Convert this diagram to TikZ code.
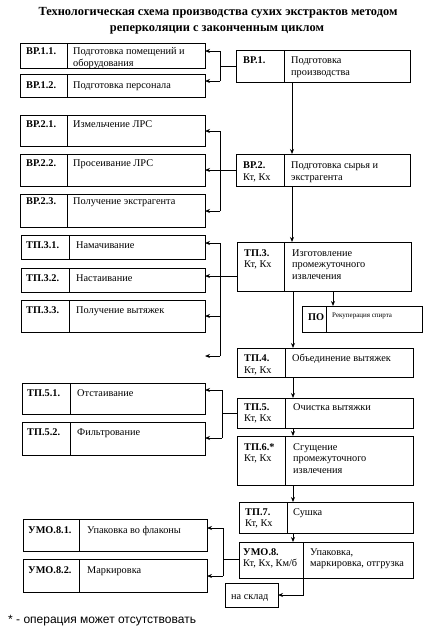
\documentclass[tikz,border=0pt]{standalone}
\usepackage{fontspec}
\setmainfont{Liberation Serif}
\newfontfamily\ftsans{Liberation Sans}
\usetikzlibrary{arrows.meta}
\newcommand\ml[1]{\begin{tabular}[t]{@{}l@{}}#1\end{tabular}}
\newcommand\pbox[6]{%
  \node[boxst, anchor=north west, minimum width={(#4-#2)*1pt}, minimum height={(#5-#3)*1pt}] (#1) at (#2,#3) {};
  \draw[ln] (#6,#3) -- (#6,#5);}
\begin{document}
\begin{tikzpicture}[x=1pt,y=-1pt,
  boxst/.style={draw, line width=0.9pt, rectangle, inner sep=0pt, outer sep=0pt},
  txt/.style={inner sep=0pt, anchor=base west, font=\fontsize{10.3}{11.5}\selectfont},
  ttl/.style={inner sep=0pt, anchor=base, font=\fontsize{12.4}{14}\selectfont\bfseries},
  arr/.style={line width=0.9pt, -{Stealth[length=5pt,width=4pt]}},
  ln/.style={line width=0.9pt}]
\renewcommand\arraystretch{1}
\useasboundingbox (0,0) rectangle (435,637);
% title
\node[ttl] (t1) at (218,15.5) {Технологическая схема производства сухих экстрактов методом};
\node[ttl] (t2) at (217,31) {реперколяции с законченным циклом};
% ---- group 1
\pbox{bp11}{20}{43}{205}{68}{67}
\node[txt] (bp11c) at (26,54.5) {\textbf{ВР.1.1.}};
\node[txt] (bp11d) at (73,54.5) {\ml{Подготовка помещений и\\оборудования}};
\pbox{bp12}{20}{74}{205}{97}{67}
\node[txt] (bp12c) at (26,88) {\textbf{ВР.1.2.}};
\node[txt] (bp12d) at (73,88) {Подготовка персонала};
\pbox{bp1}{236}{50}{410}{82}{284}
\node[txt] (bp1c) at (243,63.5) {\textbf{ВР.1.}};
\node[txt] (bp1d) at (291,63.5) {\ml{Подготовка\\производства}};
% ---- group 2
\pbox{bp21}{20}{115}{205}{146}{67}
\node[txt] (bp21c) at (26,127) {\textbf{ВР.2.1.}};
\node[txt] (bp21d) at (73,127) {Измельчение ЛРС};
\pbox{bp22}{20}{154}{205}{186}{67}
\node[txt] (bp22c) at (26,166.5) {\textbf{ВР.2.2.}};
\node[txt] (bp22d) at (73,166.5) {Просеивание ЛРС};
\pbox{bp23}{20}{194}{205}{227}{67}
\node[txt] (bp23c) at (26,204) {\textbf{ВР.2.3.}};
\node[txt] (bp23d) at (73,204) {Получение экстрагента};
\pbox{bp2}{236}{154}{410}{186}{284}
\node[txt] (bp2c) at (243,168.5) {\ml{\textbf{ВР.2.}\\Кт, Кх}};
\node[txt] (bp2d) at (291,168.5) {\ml{Подготовка сырья и\\экстрагента}};
% ---- group 3
\pbox{tp31}{21}{235}{205}{259}{69}
\node[txt] (tp31c) at (26,248) {\textbf{ТП.3.1.}};
\node[txt] (tp31d) at (76,248) {Намачивание};
\pbox{tp32}{21}{268}{205}{292}{69}
\node[txt] (tp32c) at (26,281) {\textbf{ТП.3.2.}};
\node[txt] (tp32d) at (76,281) {Настаивание};
\pbox{tp33}{21}{300}{205}{332}{69}
\node[txt] (tp33c) at (26,313) {\textbf{ТП.3.3.}};
\node[txt] (tp33d) at (76,313) {Получение вытяжек};
\pbox{tp3}{237}{242}{411}{291}{284}
\node[txt] (tp3c) at (244,256) {\ml{\textbf{ТП.3.}\\Кт, Кх}};
\node[txt] (tp3d) at (292,256) {\ml{Изготовление\\промежуточного\\извлечения}};
\pbox{po}{302}{306}{422}{332}{326}
\node[txt] (poc) at (308,320) {\textbf{ПО}};
\node[txt, font=\fontsize{7}{8}\selectfont] (pod) at (332,317) {Рекуперация спирта};
% ---- TP.4
\pbox{tp4}{237}{348}{413}{377}{285}
\node[txt] (tp4c) at (244,361.5) {\ml{\textbf{ТП.4.}\\Кт, Кх}};
\node[txt] (tp4d) at (292,361.5) {Объединение вытяжек};
% ---- group 5
\pbox{tp51}{22}{383}{205}{414}{70}
\node[txt] (tp51c) at (27,396) {\textbf{ТП.5.1.}};
\node[txt] (tp51d) at (77,396) {Отстаивание};
\pbox{tp52}{22}{422}{205}{455}{70}
\node[txt] (tp52c) at (27,435) {\textbf{ТП.5.2.}};
\node[txt] (tp52d) at (77,435) {Фильтрование};
\pbox{tp5}{237}{398}{413}{428}{285}
\node[txt] (tp5c) at (244,410) {\ml{\textbf{ТП.5.}\\Кт, Кх}};
\node[txt] (tp5d) at (293,410) {Очистка вытяжки};
\pbox{tp6}{237}{436}{413}{485}{285}
\node[txt] (tp6c) at (244,450) {\ml{\textbf{ТП.6.*}\\Кт, Кх}};
\node[txt] (tp6d) at (293,450) {\ml{Сгущение\\промежуточного\\извлечения}};
\pbox{tp7}{239}{502}{413}{533}{287}
\node[txt] (tp7c) at (245,515) {\ml{\textbf{ТП.7.}\\Кт, Кх}};
\node[txt] (tp7d) at (293,515) {Сушка};
% ---- group 8
\pbox{umo81}{23}{519}{207}{551}{79}
\node[txt] (umo81c) at (28,533) {\textbf{УМО.8.1.}};
\node[txt] (umo81d) at (87,533) {Упаковка во флаконы};
\pbox{umo82}{23}{559}{207}{592}{79}
\node[txt] (umo82c) at (28,573) {\textbf{УМО.8.2.}};
\node[txt] (umo82d) at (87,573) {Маркировка};
\pbox{umo8}{239}{542}{413}{578}{303}
\node[txt] (umo8c) at (243,555) {\ml{\textbf{УМО.8.}\\Кт, Кх, Км/б}};
\node[txt] (umo8d) at (310,555) {\ml{Упаковка,\\маркировка, отгрузка}};
\node[boxst, anchor=north west, minimum width=53pt, minimum height=24pt] (sklad) at (225,583) {};
\node[txt] (skladt) at (231,599.5) {на склад};
% footnote
\node[txt, font=\ftsans\fontsize{12}{14}\selectfont] (fn) at (8,623.5) {* - операция может отсутствовать};
% ---- connectors group 1
\coordinate (j1) at (220,66);
\coordinate (j1a) at (220,51);
\coordinate (j1b) at (220,81);
\draw[ln] (bp1.west |- j1) -- (j1);
\draw[ln] (j1a) -- (j1b);
\draw[arr] (j1a) -- (bp11.east |- j1a);
\draw[arr] (j1b) -- (bp12.east |- j1b);
% group 2
\coordinate (j2a) at (220,131);
\coordinate (j2b) at (220,211);
\draw[ln] (j2a) -- (j2b);
\draw[arr] (bp2.west) -- (bp22.east);
\draw[arr] (j2a) -- (bp21.east |- j2a);
\draw[arr] (j2b) -- (bp23.east |- j2b);
% group 3
\coordinate (j3) at (220,276);
\coordinate (j3a) at (220,243);
\coordinate (j3c) at (220,316);
\coordinate (j3d) at (220,356);
\coordinate (free3) at (205,356);
\draw[ln] (j3a) -- (j3d);
\draw[arr] (tp3.west |- j3) -- (tp32.east |- j3);
\draw[arr] (j3a) -- (tp31.east |- j3a);
\draw[arr] (j3c) -- (tp33.east |- j3c);
\draw[arr] (j3d) -- (free3);
% group 5
\coordinate (j5) at (222,413);
\coordinate (j5a) at (222,390);
\coordinate (j5b) at (222,438);
\draw[ln] (tp5.west |- j5) -- (j5);
\draw[ln] (j5a) -- (j5b);
\draw[arr] (j5a) -- (tp51.east |- j5a);
\draw[arr] (j5b) -- (tp52.east |- j5b);
% group 8
\coordinate (j8) at (223,559);
\coordinate (j8a) at (223,528);
\coordinate (j8b) at (223,576);
\draw[ln] (umo8.west |- j8) -- (j8);
\draw[ln] (j8a) -- (j8b);
\draw[arr] (j8a) -- (umo81.east |- j8a);
\draw[arr] (j8b) -- (umo82.east |- j8b);
% main flow
\coordinate (xa) at (292,0);
\coordinate (xb) at (293,0);
\coordinate (xp) at (333,0);
\coordinate (xs) at (303,0);
\draw[arr] (bp1.south -| xa) -- (bp2.north -| xa);
\draw[arr] (bp2.south -| xa) -- (tp3.north -| xa);
\draw[arr] (tp3.south -| xb) -- (tp4.north -| xb);
\draw[arr] (tp3.south -| xp) -- (po.north -| xp);
\draw[arr] (tp4.south -| xb) -- (tp5.north -| xb);
\draw[arr] (tp5.south -| xb) -- (tp6.north -| xb);
\draw[arr] (tp6.south -| xb) -- (tp7.north -| xb);
\draw[arr] (tp7.south -| xb) -- (umo8.north -| xb);
\draw[arr] (umo8.south -| xs) |- (sklad.east);
\end{tikzpicture}
\end{document}
